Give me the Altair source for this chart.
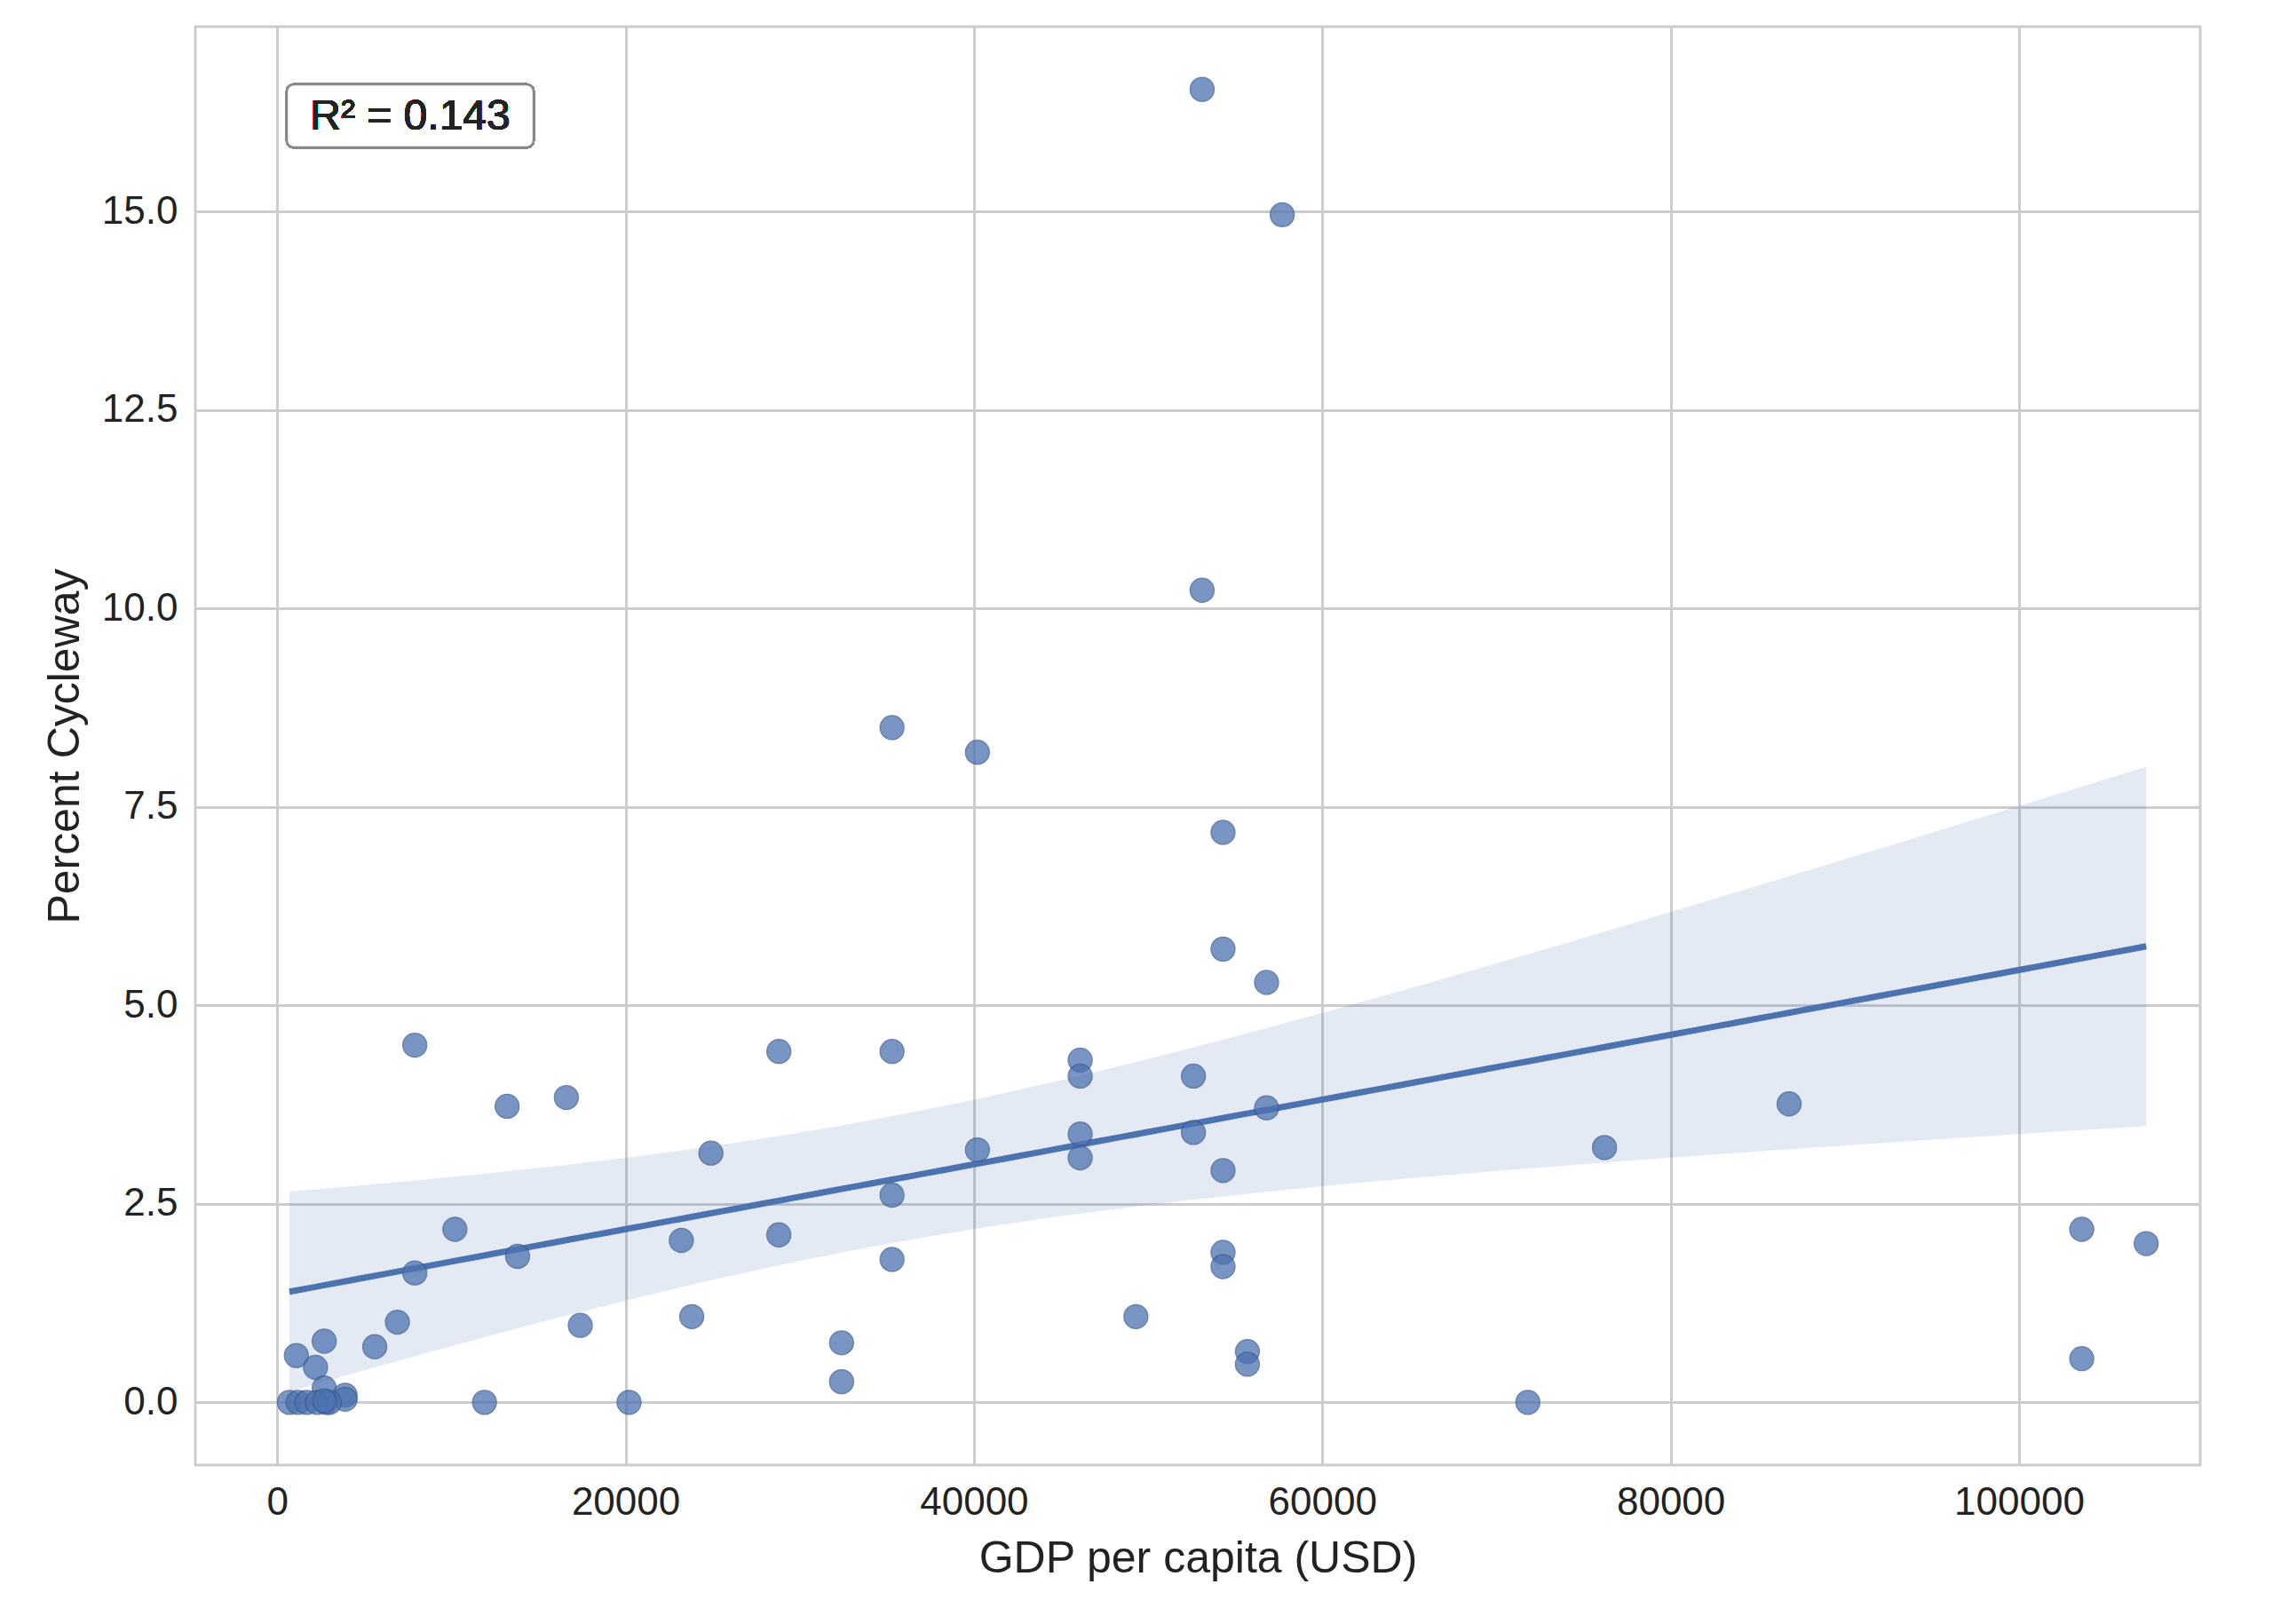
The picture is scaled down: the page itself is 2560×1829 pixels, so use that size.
import altair as alt
import numpy as np
import pandas as pd

gdp = [53100, 57700, 53100, 35300, 40200, 54300, 54300, 56800, 7900, 28800,
       35300, 46100, 46100, 52600, 16600, 13200, 86800, 56800, 46100, 52600,
       76200, 40200, 24900, 46100, 54300, 35300, 10200, 103600, 28800, 23200,
       107300, 54300, 13800, 35300, 54300, 7900, 23800, 49300, 6900, 17400,
       5600, 32400, 2700, 55700, 55700, 103600, 1100, 2200, 32400, 2700,
       3900, 3900, 11900, 20200, 71800, 700, 1200, 1700, 2300, 2800, 3000, 2700]
cycle = [16.54, 14.96, 10.23, 8.50, 8.19, 7.18, 5.71, 5.29, 4.50, 4.42,
         4.42, 4.31, 4.11, 4.11, 3.84, 3.73, 3.76, 3.71, 3.38, 3.40,
         3.21, 3.18, 3.14, 3.08, 2.92, 2.61, 2.18, 2.18, 2.11, 2.04,
         2.00, 1.89, 1.84, 1.80, 1.71, 1.63, 1.08, 1.08, 1.01, 0.97,
         0.70, 0.75, 0.77, 0.64, 0.48, 0.55, 0.59, 0.44, 0.26, 0.18,
         0.09, 0.04, 0.0, 0.0, 0.0, 0.0, 0.0, 0.0, 0.0, 0.0, 0.0, 0.02]

df = pd.DataFrame({"gdp": gdp, "pct": cycle})

# OLS fit with 95% confidence band
x = np.array(gdp, float)
y = np.array(cycle, float)
n = len(x)
b, a = np.polyfit(x, y, 1)
resid = y - (a + b * x)
s = np.sqrt((resid ** 2).sum() / (n - 2))
xs = np.linspace(x.min(), x.max(), 100)
se = s * np.sqrt(1 / n + (xs - x.mean()) ** 2 / ((x - x.mean()) ** 2).sum())
fit = pd.DataFrame({"gdp": xs, "yhat": a + b * xs,
                    "lo": a + b * xs - 2.0 * se, "hi": a + b * xs + 2.0 * se})

blue = "#4c72b0"
font = "Liberation Sans"
sx = alt.Scale(domain=[-4700, 110400], nice=False, zero=False)
sy = alt.Scale(domain=[-0.79, 17.33], nice=False, zero=False)

xax = alt.X("gdp:Q", scale=sx, title="GDP per capita (USD)",
            axis=alt.Axis(values=[0, 20000, 40000, 60000, 80000, 100000], format="d"))
yax = alt.Y("pct:Q", scale=sy, title="Percent Cycleway",
            axis=alt.Axis(values=[0, 2.5, 5, 7.5, 10, 12.5, 15], format=".1f"))

band = alt.Chart(fit).mark_area(color=blue, opacity=0.15).encode(
    x=alt.X("gdp:Q", scale=sx), y=alt.Y("lo:Q", scale=sy), y2="hi:Q")
line = alt.Chart(fit).mark_line(color=blue, strokeWidth=7).encode(
    x=alt.X("gdp:Q", scale=sx), y=alt.Y("yhat:Q", scale=sy))
points = alt.Chart(df).mark_circle(color=blue, opacity=0.75, size=720,
                                   stroke="#3a5a90", strokeWidth=1.5).encode(x=xax, y=yax)

box = alt.Chart(df).mark_rect(fill="white", stroke="#888888", strokeWidth=2.5,
                              cornerRadius=8).encode(
    x=alt.value(103), x2=alt.value(381), y=alt.value(65), y2=alt.value(136))
label = alt.Chart(df).mark_text(text="R² = 0.143", fontSize=48, font=font,
                                fontWeight="normal", color="#222222").encode(
    x=alt.value(242), y=alt.value(102))

chart = alt.layer(band, line, points, box, label).properties(
    width=2258, height=1620, padding={"left": 40, "top": 22, "right": 5, "bottom": 5}
).configure_view(stroke="#cccccc", strokeWidth=3).configure_axis(
    grid=True, gridColor="#cccccc", gridWidth=3, domain=False, ticks=False,
    labelFont=font, titleFont=font, labelFontSize=44, titleFontSize=50,
    labelColor="#222222", titleColor="#222222", titleFontWeight="normal",
    labelPadding=20, titlePadding=16
)

chart.save("out.html", embed_options={"renderer": "svg", "actions": False})
